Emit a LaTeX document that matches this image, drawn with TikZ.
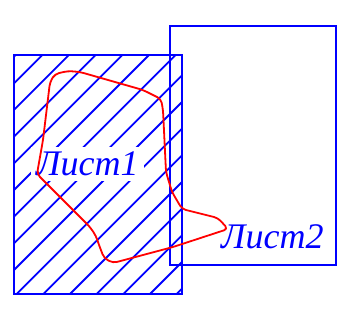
\documentclass[tikz,border=0pt]{standalone}
\usepackage{fontspec}
\setmainfont{Liberation Serif}
\usetikzlibrary{positioning}

\begin{document}
\begin{tikzpicture}[x=1pt, y=-1pt,
  sheet/.style={draw=blue, line width=2pt},
  hatch/.style={blue, line width=1.8pt},
  outline/.style={red, line width=1.8pt, rounded corners=4pt, line join=round},
  sheetlabel/.style={text=blue, font=\itshape\fontsize{36}{36}\selectfont,
                     inner sep=5pt, anchor=base west}]
  \useasboundingbox (0,0) rectangle (337,320);
  % hatched sheet
  \begin{scope}
    \clip (14,55) rectangle (182,294);
    \foreach \k in {-1,...,14}
      \draw[hatch] ({97.3+26.67*\k-300},300) -- ({97.3+26.67*\k-40},40);
  \end{scope}
  \draw[sheet] (14,55) rectangle (182,294);
  \draw[sheet] (170,26) rectangle (336,265);
  \node[sheetlabel, fill=white] (list1) at (31,176) {Лист1};
  % outline
  \draw[outline] (37,174) -- (43,140) -- (50,82) -- (55,74) -- (68,71) -- (80,72)
    -- (143,90) -- (161,99) -- (163,110) -- (166,172) -- (172,192) -- (182,209)
    -- (218,218) -- (228,229) -- (173,247) -- (143,255) -- (113,263) -- (104,258)
    -- (99,245) -- (96,236) -- (90,227) -- cycle;
  \node[sheetlabel] (list2) at (216,249) {Лист2};
\end{tikzpicture}
\end{document}
